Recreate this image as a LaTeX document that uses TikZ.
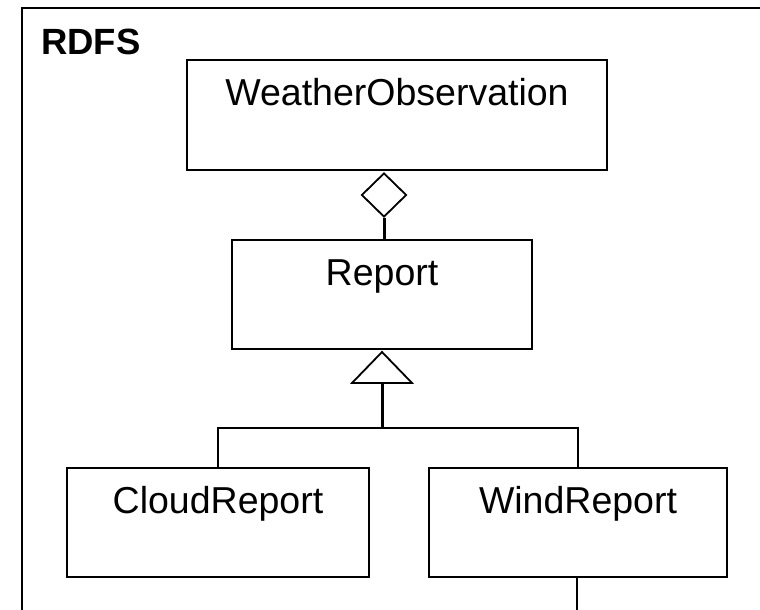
\documentclass[tikz,border=0pt]{standalone}
\usepackage{fontspec}
\setmainfont{Liberation Sans}
\usetikzlibrary{shapes.geometric}
\tikzset{
  classbox/.style={draw=black, line width=1.8pt, fill=white, inner sep=0pt},
  classname/.style={anchor=base, inner sep=0pt, font=\fontsize{37.5}{45}\selectfont},
  framebox/.style={draw=black, line width=2pt},
  link/.style={draw=black, line width=1.8pt},
  stem/.style={draw=black, line width=3pt},
  hollowhead/.style={draw=black, line width=1.8pt, fill=white, line join=miter}
}
\begin{document}
\begin{tikzpicture}[x=1pt, y=-1pt]
\useasboundingbox (0,0) rectangle (760,610);
\clip (0,0) rectangle (760,610);

% package frame with its title
\draw[framebox] (780,8) -| (22,630);
\node[anchor=base west, inner sep=0pt, font=\fontsize{36.5}{44}\selectfont\bfseries] (title) at (41,55) {RDFS};

% classes
\node[classbox, minimum width=420, minimum height=110] (wo) at (397,115) {};
\node[classname] (wolabel) at (397,105) {WeatherObservation};

\node[classbox, minimum width=300, minimum height=109] (rep) at (382,294.5) {};
\node[classname] (replabel) at (382,285) {Report};

\node[classbox, minimum width=302, minimum height=109] (cr) at (218,522.5) {};
\node[classname] (crlabel) at (218,513) {CloudReport};

\node[classbox, minimum width=298, minimum height=109] (wr) at (578,522.5) {};
\node[classname] (wrlabel) at (578,513) {WindReport};

% aggregation: Report is part of WeatherObservation
\node[diamond, hollowhead, inner sep=0pt, minimum width=45, minimum height=44] (agg) at (384,195) {};
\draw[stem] (agg.south) -- (agg.south |- rep.north);

% generalization: CloudReport and WindReport are Reports
\coordinate (apex) at (382,352);
\draw[hollowhead] (apex) -- ++(30,31) -- ++(-60,0) -- cycle;
\coordinate (tbase) at (382,383);
\coordinate (bus) at (382,428);
\draw[stem] (tbase) -- (bus);
\draw[link] (cr.north) |- (bus) -| (wr.north);

% association leaving WindReport downwards
\coordinate (tail) at (577,630);
\draw[link] (wr.south -| tail) -- (tail);
\end{tikzpicture}
\end{document}
